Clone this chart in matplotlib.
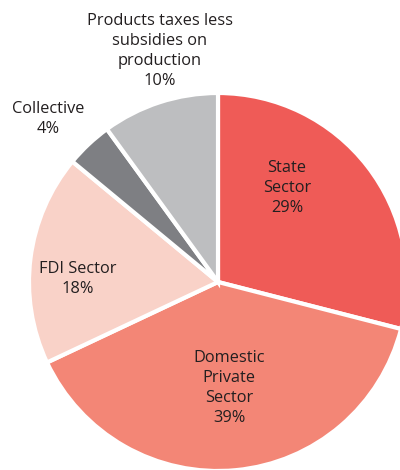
import matplotlib
matplotlib.use("Agg")
import matplotlib.pyplot as plt

labels = ["State\nSector", "Domestic\nPrivate\nSector", "FDI Sector", "Collective",
          "Products taxes less\nsubsidies on\nproduction"]
shares = [29, 39, 18, 4, 10]
colors = ["#EF5B57", "#F38676", "#F9D2C8", "#7E7F83", "#BDBEC0"]
# where each label sits, in pixels from top-left
label_pos = [(287, 188), (229, 388), (78, 279), (48, 119), (160, 51)]

plt.rcParams['font.family'] = ['Open Sans', 'DejaVu Sans']

fig = plt.figure(figsize=(4.0, 4.7), dpi=100)
ax = fig.add_axes([0, 0, 1, 1])

# y axis is flipped, so counterclock=True draws clockwise on screen
ax.pie(shares, colors=colors, startangle=-90, counterclock=True,
       center=(218, 282), radius=189, frame=True,
       wedgeprops=dict(edgecolor='white', linewidth=3))
ax.set_xlim(0, 400)
ax.set_ylim(470, 0)
ax.set_aspect('equal')
ax.axis('off')

for lab, val, (x, y) in zip(labels, shares, label_pos):
    ax.text(x, y, f"{lab}\n{val}%", ha='center', va='center',
            fontsize=11.8, color='#231F20', linespacing=1.32)

fig.savefig("out.png", dpi=100)
